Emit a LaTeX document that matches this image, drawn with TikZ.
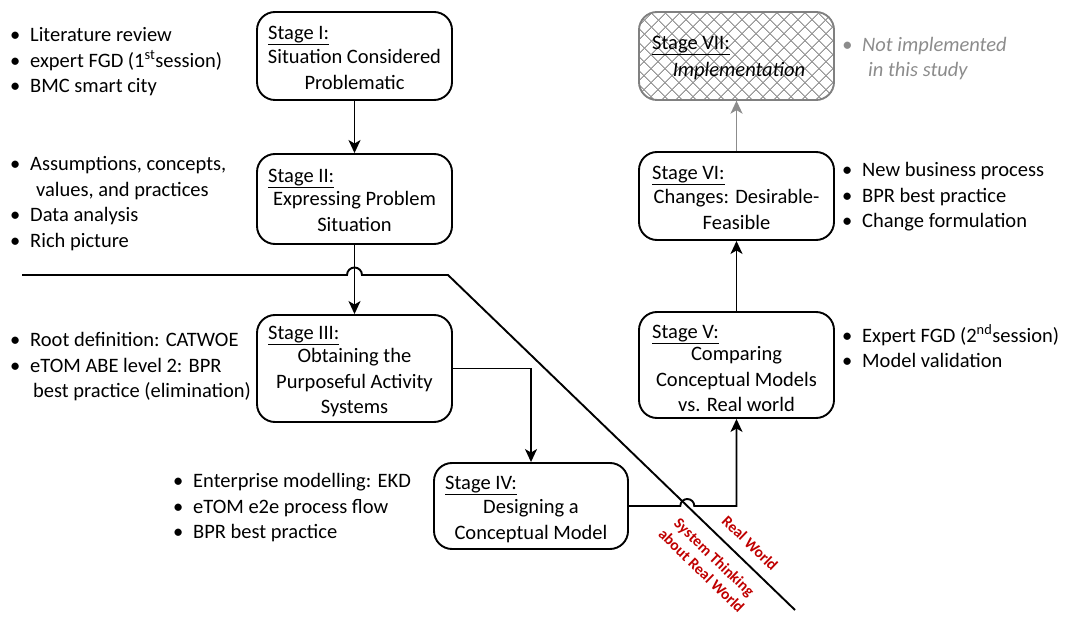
\documentclass[tikz,border=0pt]{standalone}
\usepackage{fontspec}
\setmainfont{Carlito}
\usetikzlibrary{arrows.meta,patterns.meta}
\definecolor{rwred}{RGB}{192,0,0}
\newcommand\lnstrut{\rule[-7.5pt]{0pt}{25.5pt}}
\newcommand\bul{\makebox[20pt][l]{\textbullet}}
\tikzset{
  stagebox/.style={draw, line width=1.9pt, rounded corners=18pt, inner sep=0pt, minimum width=195pt},
  conn/.style={line width=1.9pt, -{Stealth[length=13pt,width=12pt,inset=3.5pt]}},
  txt/.style={font=\fontsize{20.5}{25.5}\selectfont, inner sep=0pt},
  lbl/.style={txt, anchor=west, text height=17pt, text depth=4pt},
  body/.style={txt, align=center},
  lst/.style={txt, align=left, anchor=west},
  redtxt/.style={font=\bfseries\fontsize{15.5}{18.5}\selectfont, text=rwred, inner sep=0pt, rotate=-44, align=center},
  hatchbox/.style={stagebox, draw=black!50,
    preaction={pattern={Lines[angle=45,distance=10.5pt,line width=1.3pt]}, pattern color=black!40},
    pattern={Lines[angle=-45,distance=10.5pt,line width=1.3pt]}, pattern color=black!40}
}
\begin{document}
\begin{tikzpicture}[x=1pt,y=-1pt]
\useasboundingbox (0,0) rectangle (1070,617);

% stage boxes
\node[stagebox, minimum height=88pt] (s1) at (354.5,56) {};
\node[stagebox, minimum height=90pt] (s2) at (354.5,199) {};
\node[stagebox, minimum height=107pt] (s3) at (354.5,368.5) {};
\node[stagebox, minimum width=194pt, minimum height=86pt] (s4) at (531,506) {};
\node[stagebox, minimum height=106pt] (s5) at (736.5,365) {};
\node[stagebox, minimum height=88pt] (s6) at (736.5,196) {};
\node[hatchbox, minimum height=88pt] (s7) at (736.5,56) {};

% box texts
\node[lbl] (s1l) at (268,33) {\underline{Stage I:}};
\node[body] (s1b) at (354.5,71.5) {\lnstrut Situation Considered\\\lnstrut Problematic};
\node[lbl] (s2l) at (268,176) {\underline{Stage II:}};
\node[body] (s2b) at (354.5,213.5) {\lnstrut Expressing Problem\\\lnstrut Situation};
\node[lbl] (s3l) at (268,333) {\underline{Stage III:}};
\node[body] (s3b) at (354.5,383) {\lnstrut Obtaining the\\\lnstrut Purposeful Activity\\\lnstrut Systems};
\node[lbl] (s4l) at (445,483) {\underline{Stage IV:}};
\node[body] (s4b) at (531,521) {\lnstrut Designing a\\\lnstrut Conceptual Model};
\node[lbl] (s5l) at (652,332) {\underline{Stage V:}};
\node[body] (s5b) at (736.5,381) {\lnstrut Comparing\\\lnstrut Conceptual Models\\\lnstrut vs. Real world};
\node[lbl] (s6l) at (652,173) {\underline{Stage VI:}};
\node[body] (s6b) at (736.5,211.5) {\lnstrut Changes: Desirable-\\\lnstrut Feasible};
\node[lbl] (s7l) at (652,43) {\underline{Stage VII:}};
\node[body, font=\fontsize{20.5}{25.5}\selectfont\itshape] (s7b) at (739,71) {\lnstrut Implementation};

% bullet lists
\node[lst] (la) at (10,62) {\lnstrut\bul Literature review\\\lnstrut\bul expert FGD (1\textsuperscript{st}session)\\\lnstrut\bul BMC smart city};
\node[lst] (lb) at (10,204) {\lnstrut\bul Assumptions, concepts,\\\lnstrut\hspace*{26pt}values, and practices\\\lnstrut\bul Data analysis\\\lnstrut\bul Rich picture};
\node[lst] (lc) at (10,367) {\lnstrut\bul Root definition: CATWOE\\\lnstrut\bul eTOM ABE level 2: BPR\\\lnstrut\hspace*{23pt}best practice (elimination)};
\node[lst] (ld) at (173,508) {\lnstrut\bul Enterprise modelling: EKD\\\lnstrut\bul eTOM e2e process flow\\\lnstrut\bul BPR best practice};
\node[lst] (le) at (842,197) {\lnstrut\bul New business process\\\lnstrut\bul BPR best practice\\\lnstrut\bul Change formulation};
\node[lst] (lf) at (842,349.5) {\lnstrut\bul Expert FGD (2\textsuperscript{nd}session)\\\lnstrut\bul Model validation};
\node[lst, text=black!45, font=\fontsize{20.5}{25.5}\selectfont\itshape] (lg) at (842,59) {\lnstrut\bul Not implemented\\\lnstrut\hspace*{26pt}in this study};

% boundary line between real world and system thinking
\coordinate (hl0) at (22,275);
\coordinate (hop1) at (347,275);
\coordinate (corner) at (448,275);
\coordinate (dend) at (795,610);
\draw[line width=1.9pt, line join=miter] (hl0) -- (hop1) arc[start angle=180,end angle=0,radius=7.5pt] -- (corner) -- (dend);

\node[redtxt] (rw) at (750,543) {Real World};
\node[redtxt] (st) at (708,564) {System Thinking\\about Real World};

% connectors
\draw[conn] (s1.south) -- (s2.north);
\draw[conn] (s2.south) -- (s3.north);
\draw[conn] (s3.east) -| (s4.north);
\coordinate (hop2) at (680.3,506);
\draw[conn] (s4.east) -- (hop2) arc[start angle=180,end angle=0,radius=7pt] -- (s4.east -| s5.south) -- (s5.south);
\draw[conn] (s5.north) -- (s6.south);
\draw[conn, draw=black!45] (s6.north) -- (s7.south);
\end{tikzpicture}
\end{document}
